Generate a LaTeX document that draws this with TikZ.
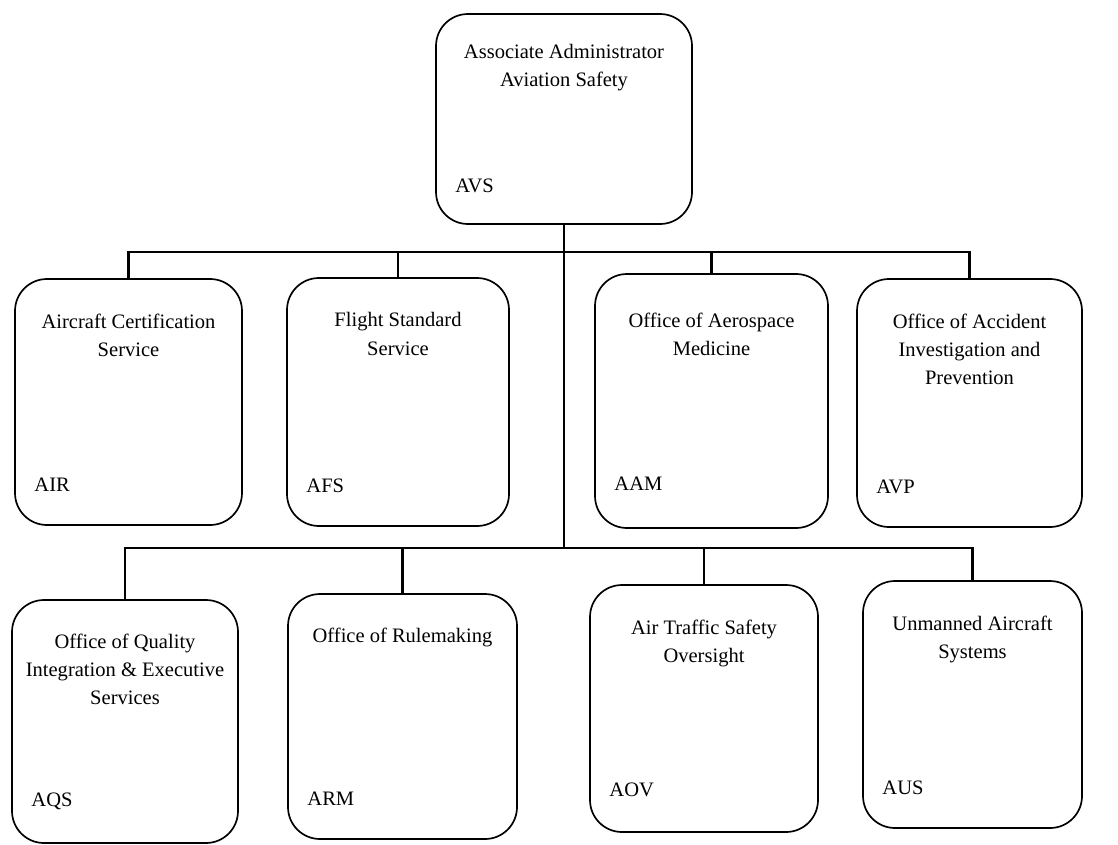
\documentclass[tikz,border=0pt]{standalone}
\usepackage{fontspec}
\setmainfont{Liberation Serif}
\usetikzlibrary{positioning}

\begin{document}
\begin{tikzpicture}[
    every node/.style={font=\fontsize{14.6}{20}\selectfont, align=center},
    orgbox/.style={draw, line width=1.2pt, rounded corners=0.8cm, inner sep=0pt},
    orgtitle/.style={anchor=north, inner sep=0pt},
    orgcode/.style={inner sep=0pt},
    link/.style={line width=1.5pt}
]
\useasboundingbox (0,0) rectangle (27.95,-21.1);

\node[orgbox, minimum width=6.4cm, minimum height=5.25cm] (avs) at (14.1,-2.975) {};
\node[orgtitle, below=0.76cm of avs.north] (avs-t) {Associate Administrator\\Aviation Safety};
\node[orgcode, above right=0.8cm and 0.5cm of avs.south west] (avs-c) {AVS};

\node[orgbox, minimum width=5.675cm, minimum height=6.15cm] (air) at (3.2125,-10.05) {};
\node[orgtitle, below=0.88cm of air.north] (air-t) {Aircraft Certification\\Service};
\node[orgcode, above right=0.85cm and 0.5cm of air.south west] (air-c) {AIR};

\node[orgbox, minimum width=5.55cm, minimum height=6.2cm] (afs) at (9.95,-10.05) {};
\node[orgtitle, below=0.88cm of afs.north] (afs-t) {Flight Standard\\Service};
\node[orgcode, above right=0.85cm and 0.5cm of afs.south west] (afs-c) {AFS};

\node[orgbox, minimum width=5.825cm, minimum height=6.35cm] (aam) at (17.7875,-10.025) {};
\node[orgtitle, below=0.98cm of aam.north] (aam-t) {Office of Aerospace\\Medicine};
\node[orgcode, above right=0.95cm and 0.5cm of aam.south west] (aam-c) {AAM};

\node[orgbox, minimum width=5.625cm, minimum height=6.2cm] (avp) at (24.2375,-10.075) {};
\node[orgtitle, below=0.88cm of avp.north] (avp-t) {Office of Accident\\Investigation and\\Prevention};
\node[orgcode, above right=0.85cm and 0.5cm of avp.south west] (avp-c) {AVP};

\node[orgbox, minimum width=5.65cm, minimum height=6.075cm] (aqs) at (3.125,-18.0375) {};
\node[orgtitle, below=0.86cm of aqs.north] (aqs-t) {Office of Quality\\Integration \& Executive\\Services};
\node[orgcode, above right=0.85cm and 0.5cm of aqs.south west] (aqs-c) {AQS};

\node[orgbox, minimum width=5.725cm, minimum height=6.125cm] (arm) at (10.0625,-17.9125) {};
\node[orgtitle, below=0.86cm of arm.north] (arm-t) {Office of Rulemaking};
\node[orgcode, above right=0.85cm and 0.5cm of arm.south west] (arm-c) {ARM};

\node[orgbox, minimum width=5.7cm, minimum height=6.175cm] (aov) at (17.6,-17.7125) {};
\node[orgtitle, below=0.88cm of aov.north] (aov-t) {Air Traffic Safety\\Oversight};
\node[orgcode, above right=0.9cm and 0.5cm of aov.south west] (aov-c) {AOV};

\node[orgbox, minimum width=5.475cm, minimum height=6.175cm] (aus) at (24.3125,-17.6125) {};
\node[orgtitle, below=0.88cm of aus.north] (aus-t) {Unmanned Aircraft\\Systems};
\node[orgcode, above right=0.85cm and 0.5cm of aus.south west] (aus-c) {AUS};

\coordinate (bus1) at (14.125,-6.3);
\coordinate (bus2) at (14.125,-13.7);

\draw[link] (avs.south) -- (avs.south |- bus2);
\draw[link] (air.north) |- (bus1) -| (avp.north);
\draw[link] (afs.north) -- (afs.north |- bus1);
\draw[link] (aam.north) -- (aam.north |- bus1);
\draw[link] (aqs.north) |- (bus2) -| (aus.north);
\draw[link] (arm.north) -- (arm.north |- bus2);
\draw[link] (aov.north) -- (aov.north |- bus2);
\end{tikzpicture}
\end{document}
